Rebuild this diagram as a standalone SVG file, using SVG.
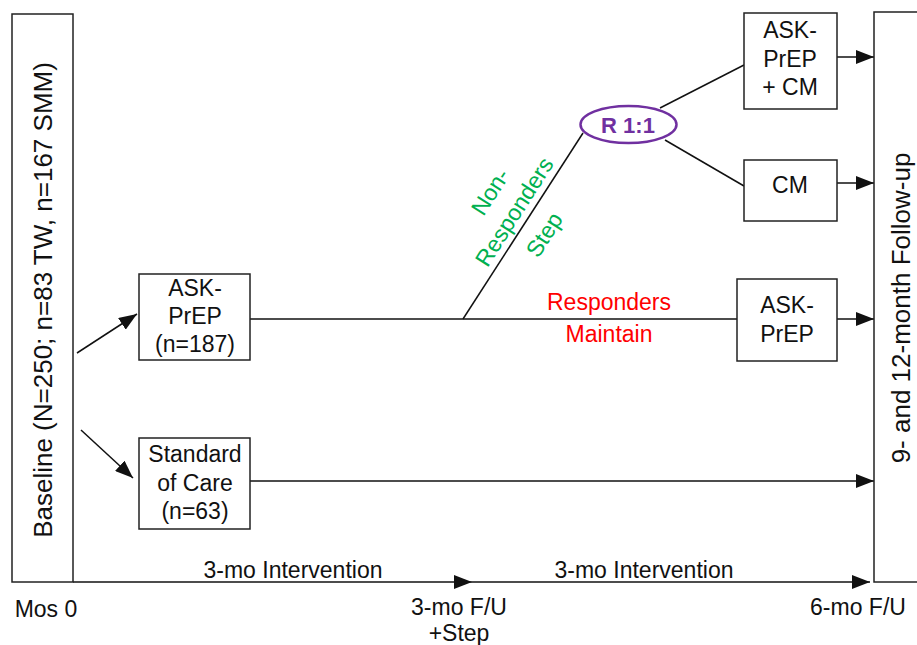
<svg xmlns="http://www.w3.org/2000/svg" width="917" height="645" viewBox="0 0 917 645">
<style>
.box{fill:#fff;stroke:#222;stroke-width:1.5}
.ln{stroke:#111;stroke-width:1.5;fill:none}
.t{font-family:"Liberation Sans",Arial,sans-serif;font-size:23px;fill:#111;text-anchor:middle}
.big{font-size:26px}
.red{fill:#ff0000}
.grn{fill:#00b050}
.pur{fill:#7030a0;font-weight:bold;font-size:22px}
</style>
<defs>
<marker id="ah" markerUnits="userSpaceOnUse" markerWidth="18" markerHeight="14" refX="18" refY="7" orient="auto">
<path d="M0,0 L18,7 L0,14 z" fill="#111"/>
</marker>
</defs>
<g id="connectors">
<line class="ln" x1="77" y1="353" x2="137" y2="314" marker-end="url(#ah)"/>
<line class="ln" x1="81" y1="430" x2="133" y2="478" marker-end="url(#ah)"/>
<line class="ln" x1="250" y1="319" x2="737" y2="319"/>
<line class="ln" x1="250" y1="481" x2="874" y2="481" marker-end="url(#ah)"/>
<line class="ln" x1="463" y1="319" x2="583" y2="133"/>
<line class="ln" x1="660" y1="108" x2="744" y2="65"/>
<line class="ln" x1="665" y1="140" x2="744" y2="186"/>
<line class="ln" x1="837" y1="57" x2="874" y2="57" marker-end="url(#ah)"/>
<line class="ln" x1="837" y1="183" x2="874" y2="183" marker-end="url(#ah)"/>
<line class="ln" x1="837" y1="319" x2="874" y2="319" marker-end="url(#ah)"/>
<line class="ln" x1="73" y1="582" x2="472" y2="582" marker-end="url(#ah)"/>
<line class="ln" x1="472" y1="582" x2="870" y2="582" marker-end="url(#ah)"/>
</g>
<g id="baseline">
<rect class="box" x="12" y="14" width="61" height="568"/>
<text class="t big" transform="translate(52,300) rotate(-90)">Baseline (N=250; n=83 TW, n=167 SMM)</text>
</g>
<g id="followup">
<rect class="box" x="874" y="12" width="60" height="570"/>
<text class="t big" transform="translate(910,308) rotate(-90)">9- and 12-month Follow-up</text>
</g>
<g id="askprep1">
<rect class="box" x="139" y="274" width="111" height="86"/>
<text class="t" x="195" y="296">ASK-</text>
<text class="t" x="195" y="324">PrEP</text>
<text class="t" x="195" y="352">(n=187)</text>
</g>
<g id="soc">
<rect class="box" x="139" y="438" width="111" height="91"/>
<text class="t" x="195" y="462">Standard</text>
<text class="t" x="195" y="491">of Care</text>
<text class="t" x="195" y="519">(n=63)</text>
</g>
<g id="rand">
<ellipse cx="628.5" cy="124.5" rx="48" ry="18.5" fill="#fff" stroke="#7030a0" stroke-width="2.5"/>
<text class="t pur" x="628" y="133">R 1:1</text>
</g>
<g id="askprepcm">
<rect class="box" x="744" y="13" width="93" height="96"/>
<text class="t" x="790" y="38">ASK-</text>
<text class="t" x="790" y="67">PrEP</text>
<text class="t" x="790" y="95">+ CM</text>
</g>
<g id="cm">
<rect class="box" x="744" y="160" width="93" height="61"/>
<text class="t" x="790" y="193">CM</text>
</g>
<g id="askprep2">
<rect class="box" x="737" y="279" width="100" height="82"/>
<text class="t" x="787" y="313">ASK-</text>
<text class="t" x="787" y="342">PrEP</text>
</g>
<g id="labels">
<text class="t grn" transform="translate(497,196) rotate(-57.4)">Non-</text>
<text class="t grn" transform="translate(521,216) rotate(-57.4)">Responders</text>
<text class="t grn" transform="translate(551,239) rotate(-57.4)">Step</text>
<text class="t red" x="609" y="310">Responders</text>
<text class="t red" x="609" y="342">Maintain</text>
<text class="t" x="293" y="578">3-mo Intervention</text>
<text class="t" x="644" y="578">3-mo Intervention</text>
<text class="t" x="46" y="617">Mos 0</text>
<text class="t" x="459" y="615">3-mo F/U</text>
<text class="t" x="459" y="641">+Step</text>
<text class="t" x="858" y="615">6-mo F/U</text>
</g>
</svg>
